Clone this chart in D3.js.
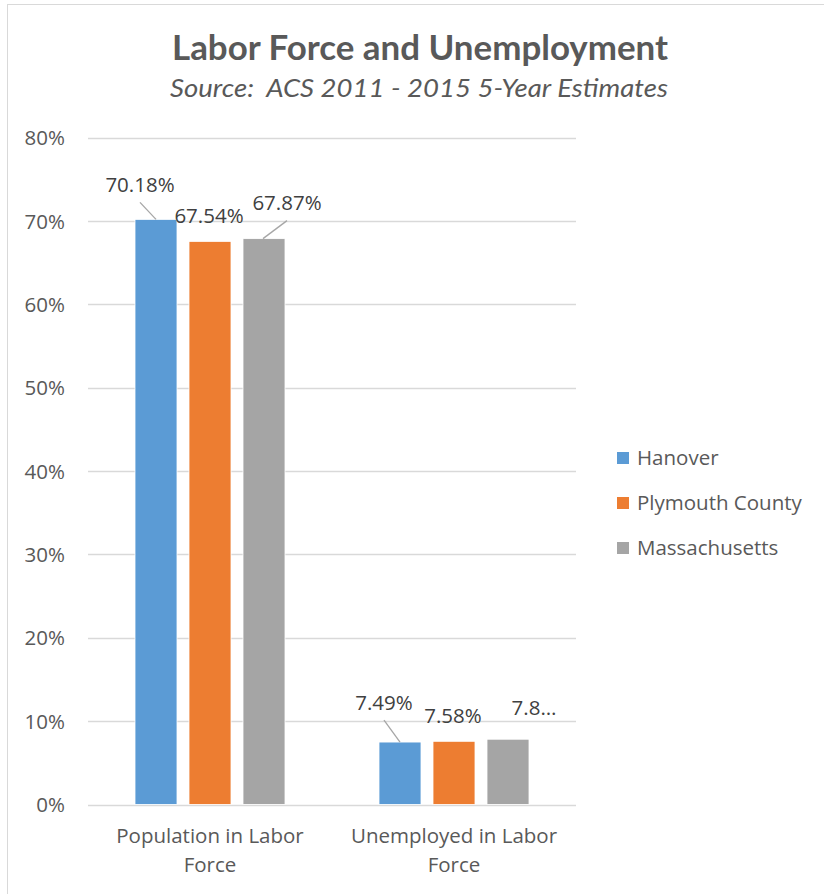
<!DOCTYPE html>
<html>
<head>
<meta charset="utf-8">
<script src="https://cdn.jsdelivr.net/npm/d3@7.9.0/dist/d3.min.js"></script>
<style>
  body { margin: 0; background: #fff; }
  svg { display: block; }
  text { fill: #595959; white-space: pre; }
</style>
</head>
<body>
<svg width="824" height="894"></svg>
<script>
const categories = [['Population in Labor', 'Force'], ['Unemployed in Labor', 'Force']];
const series = ['Hanover', 'Plymouth County', 'Massachusetts'];
const hanover = [70.18, 7.49];
const plymouth = [67.54, 7.58];
const massachusetts = [67.87, 7.83];
const shownLabels = [['70.18%', '67.54%', '67.87%'], ['7.49%', '7.58%', '7.8…']];
const ticks = [0, 10, 20, 30, 40, 50, 60, 70, 80];
const colors = ['#5b9bd5', '#ed7d31', '#a5a5a5'];

const values = [hanover, plymouth, massachusetts];

const svg = d3.select('svg');

// chart frame
svg.append('rect')
  .attr('x', 7.5).attr('y', 4.5)
  .attr('width', 830).attr('height', 900)
  .attr('fill', '#fff').attr('stroke', '#d9d9d9');

// titles
svg.append('text')
  .attr('x', 420).attr('y', 60)
  .attr('text-anchor', 'middle')
  .attr('textLength', 496).attr('lengthAdjust', 'spacingAndGlyphs')
  .style('font-family', 'Lato, sans-serif')
  .style('font-weight', 'bold')
  .style('font-size', '34px')
  .text('Labor Force and Unemployment');

svg.append('text')
  .attr('x', 419).attr('y', 97)
  .attr('text-anchor', 'middle')
  .attr('textLength', 498).attr('lengthAdjust', 'spacingAndGlyphs')
  .style('font-family', 'Lato, sans-serif')
  .style('font-style', 'italic')
  .style('font-size', '25.5px')
  .text('Source:  ACS 2011 - 2015 5-Year Estimates');

const plotLeft = 88, plotRight = 576, plotTop = 137.5, plotBottom = 804.5;

const y = d3.scaleLinear().domain([0, 80]).range([plotBottom, plotTop]);
const x0 = d3.scaleBand().domain(d3.range(categories.length)).range([plotLeft, plotRight]);
const x1 = d3.scaleBand().domain(d3.range(series.length)).range([-75, 75]).paddingInner(12 / 54);

const font = '"Open Sans", sans-serif';
const fs = '20.5px';

// gridlines
svg.append('g')
  .selectAll('line')
  .data(ticks)
  .join('line')
  .attr('x1', plotLeft).attr('x2', plotRight)
  .attr('y1', (d) => Math.round(y(d)) + 0.5)
  .attr('y2', (d) => Math.round(y(d)) + 0.5)
  .attr('stroke', '#d9d9d9')
  .attr('stroke-width', 1.5);

// y axis labels
const yAxis = d3.axisLeft(y).tickValues(ticks).tickFormat((d) => d + '%').tickSize(0).tickPadding(0);
const gy = svg.append('g').attr('transform', 'translate(65,0)').call(yAxis);
gy.select('.domain').remove();
gy.selectAll('text')
  .attr('dy', '0.35em')
  .style('font-family', font)
  .style('font-size', fs)
  .style('fill', '#595959');

// bars
categories.forEach((cat, ci) => {
  const cx = x0(ci) + x0.bandwidth() / 2;
  series.forEach((s, si) => {
    svg.append('rect')
      .attr('x', cx + x1(si))
      .attr('y', y(values[si][ci]))
      .attr('width', x1.bandwidth())
      .attr('height', y(0) - y(values[si][ci]))
      .attr('fill', colors[si])
      .attr('stroke', '#fff')
      .attr('stroke-width', 0.8);
  });

  // category label
  cat.forEach((line, li) => {
    svg.append('text')
      .attr('x', cx).attr('y', 843 + li * 29)
      .attr('text-anchor', 'middle')
      .style('font-family', font)
      .style('font-size', fs)
      .text(line);
  });
});

// data labels (placed like the reference, some with leader lines)
const labelOffsets = [
  [{ dx: -16, dy: -27, lead: true }, { dx: -1, dy: -18, lead: false }, { dx: 23, dy: -29, lead: true }],
  [{ dx: -16, dy: -32, lead: true }, { dx: -1, dy: -18, lead: false }, { dx: 26, dy: -24, lead: false }]
];
categories.forEach((cat, ci) => {
  const cx = x0(ci) + x0.bandwidth() / 2;
  series.forEach((s, si) => {
    const bx = cx + x1(si) + x1.bandwidth() / 2;
    const by = y(values[si][ci]);
    const o = labelOffsets[ci][si];
    if (o.lead) {
      if (si === 0) {
        svg.append('line')
          .attr('x1', bx - 16).attr('y1', by + o.dy + 10)
          .attr('x2', bx).attr('y2', by)
          .attr('stroke', '#a6a6a6').attr('stroke-width', 1.3);
      } else {
        svg.append('line')
          .attr('x1', bx - 1).attr('y1', by)
          .attr('x2', bx + 23).attr('y2', by - 18)
          .attr('stroke', '#a6a6a6').attr('stroke-width', 1.3);
      }
    }
    svg.append('text')
      .attr('x', bx + o.dx).attr('y', by + o.dy)
      .attr('text-anchor', 'middle')
      .style('font-family', font)
      .style('font-size', fs)
      .style('fill', '#404040')
      .text(shownLabels[ci][si]);
  });
});

// legend
const legend = svg.append('g').attr('transform', 'translate(617,452)');
series.forEach((s, si) => {
  const g = legend.append('g').attr('transform', `translate(0,${si * 45})`);
  g.append('rect').attr('width', 12).attr('height', 12).attr('fill', colors[si]);
  g.append('text')
    .attr('x', 20).attr('y', 13)
    .style('font-family', font)
    .style('font-size', fs)
    .text(s);
});
</script>
</body>
</html>
